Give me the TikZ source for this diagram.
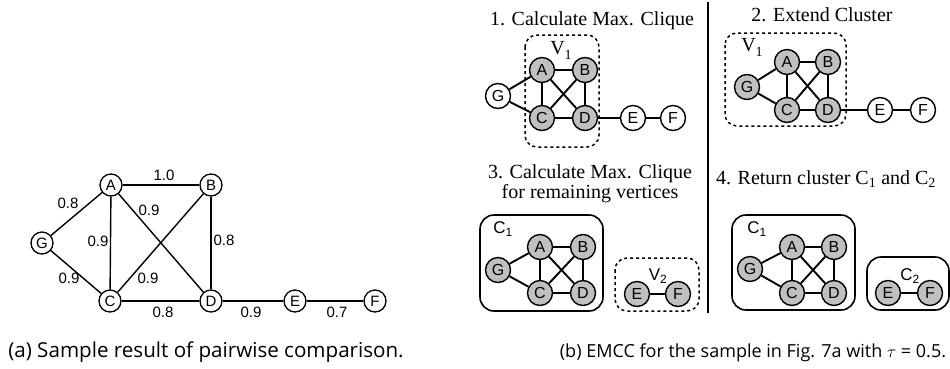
\documentclass[tikz,border=0pt]{standalone}
\usepackage{fontspec}
\setmainfont{Liberation Serif}
\setsansfont{Liberation Sans}
\newfontfamily\capfont{Open Sans}
\definecolor{nodegray}{RGB}{192,192,192}
\newcommand{\lowsub}[1]{\raisebox{-5pt}{\fontsize{14}{14}\selectfont #1}}
\tikzset{
  an/.style={circle, draw, line width=1.3pt, fill=white, inner sep=0pt, minimum size=22pt, font=\sffamily\fontsize{15}{15}\selectfont},
  bn/.style={circle, draw, line width=1.4pt, fill=white, inner sep=0pt, minimum size=25pt, font=\sffamily\fontsize{16}{16}\selectfont},
  gn/.style={bn, fill=nodegray},
  ae/.style={line width=1.4pt},
  be/.style={line width=1.9pt},
  wl/.style={font=\sffamily\fontsize{15}{15}\selectfont, inner sep=0pt},
  dbox/.style={draw, dash pattern=on 3pt off 3pt, line width=1.5pt, rounded corners=12pt},
  sbox/.style={draw, line width=1.6pt, rounded corners=14pt},
  ttl/.style={font=\rmfamily\fontsize{20}{16}\selectfont, inner sep=0pt, anchor=base, align=center},
  captxt/.style={font=\capfont\fontsize{20.6}{21}\selectfont, inner sep=0pt, anchor=base},
  captxtb/.style={font=\capfont\fontsize{18}{21}\selectfont, inner sep=0pt, anchor=base},
  sl/.style={font=\sffamily\fontsize{17}{17}\selectfont, inner sep=0pt},
  rl/.style={font=\rmfamily\fontsize{20}{20}\selectfont, inner sep=0pt}
}
\begin{document}
\begin{tikzpicture}[x=1pt,y=-1pt]
\useasboundingbox (0,0) rectangle (950,368);
% ---------- panel (a)
\node[an] (aA) at (111,185) {A};
\node[an] (aB) at (211,185) {B};
\node[an] (aG) at (42,243) {G};
\node[an] (aC) at (110,301) {C};
\node[an] (aD) at (211,301) {D};
\node[an] (aE) at (295,301) {E};
\node[an] (aF) at (375,301) {F};
\draw[ae] (aA) -- (aB);
\draw[ae] (aA) -- (aC);
\draw[ae] (aA) -- (aD);
\draw[ae] (aB) -- (aC);
\draw[ae] (aB) -- (aD);
\draw[ae] (aC) -- (aD);
\draw[ae] (aG) -- (aA);
\draw[ae] (aG) -- (aC);
\draw[ae] (aD) -- (aE);
\draw[ae] (aE) -- (aF);
\node[wl] (w1) at (164,175) {1.0};
\node[wl] (w2) at (68,203) {0.8};
\node[wl] (w3) at (149,210) {0.9};
\node[wl] (w4) at (98,241) {0.9};
\node[wl] (w5) at (224,240) {0.8};
\node[wl] (w6) at (69,278) {0.9};
\node[wl] (w7) at (148,278) {0.9};
\node[wl] (w8) at (163,312) {0.8};
\node[wl] (w9) at (251,312) {0.9};
\node[wl] (w10) at (337,312) {0.7};
\node[captxt] (capa) at (206,357) {(a) Sample result of pairwise comparison.};
% ---------- panel (b)
\coordinate (vt) at (708,2);
\coordinate (vb) at (708,313);
\draw[line width=1.6pt] (vt) -- (vb);
\node[captxtb] (capb) at (753,357) {(b) EMCC for the sample in Fig. 7a with \(\tau\) = 0.5.};
% step 1
\node[ttl] (t1) at (592,25) {1. Calculate Max. Clique};
\draw[dbox] (525,35) rectangle (599,147);
\node[rl] (v1a) at (561,50) {V\lowsub{1}};
\node[gn] (1A) at (542,70) {A};
\node[gn] (1B) at (585,70) {B};
\node[bn] (1G) at (498,96) {G};
\node[gn] (1C) at (542,118) {C};
\node[gn] (1D) at (585,118) {D};
\node[bn] (1E) at (633,118) {E};
\node[bn] (1F) at (673,118) {F};
\foreach \u/\v in {A/B,A/C,A/D,B/C,B/D,C/D,G/A,G/C,D/E,E/F} \draw[be] (1\u) -- (1\v);
% step 2
\node[ttl] (t2) at (822,21) {2. Extend Cluster};
\draw[dbox] (725,33) rectangle (846,126);
\node[rl] (v1b) at (752,47) {V\lowsub{1}};
\node[gn] (2A) at (787,62) {A};
\node[gn] (2B) at (828,62) {B};
\node[gn] (2G) at (747,87) {G};
\node[gn] (2C) at (787,110) {C};
\node[gn] (2D) at (828,110) {D};
\node[bn] (2E) at (880,110) {E};
\node[bn] (2F) at (923,110) {F};
\foreach \u/\v in {A/B,A/C,A/D,B/C,B/D,C/D,G/A,G/C,D/E,E/F} \draw[be] (2\u) -- (2\v);
% step 3
\node[ttl] (t3) at (590,198) {3. Calculate Max. Clique\\for remaining vertices};
\draw[sbox] (480,215) rectangle (603,311);
\node[sl] (c1a) at (503,229) {C\textsubscript{1}};
\node[gn] (3A) at (540,247) {A};
\node[gn] (3B) at (583,247) {B};
\node[gn] (3G) at (498,270) {G};
\node[gn] (3C) at (540,293) {C};
\node[gn] (3D) at (583,293) {D};
\foreach \u/\v in {A/B,A/C,A/D,B/C,B/D,C/D,G/A,G/C} \draw[be] (3\u) -- (3\v);
\draw[dbox] (615,258) rectangle (699,311);
\node[sl] (v2) at (658,276) {V\textsubscript{2}};
\node[gn] (3E) at (637,294) {E};
\node[gn] (3F) at (678,294) {F};
\draw[be] (3E) -- (3F);
% step 4
\node[ttl] (t4) at (826,184) {4. Return cluster C\textsubscript{1} and C\textsubscript{2}};
\draw[sbox] (732,215) rectangle (855,310);
\node[sl] (c1b) at (757,229) {C\textsubscript{1}};
\node[gn] (4A) at (792,247) {A};
\node[gn] (4B) at (834,247) {B};
\node[gn] (4G) at (750,269) {G};
\node[gn] (4C) at (792,293) {C};
\node[gn] (4D) at (834,293) {D};
\foreach \u/\v in {A/B,A/C,A/D,B/C,B/D,C/D,G/A,G/C} \draw[be] (4\u) -- (4\v);
\draw[sbox] (867,257) rectangle (949,310);
\node[sl] (c2) at (910,276) {C\textsubscript{2}};
\node[gn] (4E) at (888,293) {E};
\node[gn] (4F) at (930,293) {F};
\draw[be] (4E) -- (4F);
\end{tikzpicture}
\end{document}
